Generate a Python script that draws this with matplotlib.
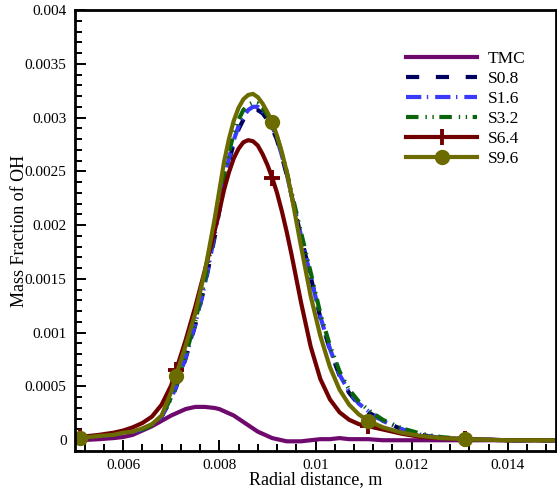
import numpy as np
import matplotlib
matplotlib.use("Agg")
import matplotlib.pyplot as plt
from matplotlib.ticker import MultipleLocator, FixedLocator, FixedFormatter

plt.rcParams['font.family'] = ['Liberation Serif', 'DejaVu Serif']
plt.rcParams['lines.scale_dashes'] = False

# ---- data ----
x = [0.0050, 0.0051, 0.0055, 0.0058, 0.0060, 0.0062, 0.0064, 0.0066, 0.0068, 0.0070,
     0.0071, 0.0073, 0.0075, 0.0077, 0.0079, 0.0080, 0.0081, 0.0082, 0.0083, 0.0084,
     0.0085, 0.0086, 0.0087, 0.0088, 0.0089, 0.0090, 0.0091, 0.0092, 0.0093, 0.0094,
     0.0095, 0.0097, 0.0099, 0.0101, 0.0103, 0.0105, 0.0107, 0.0109, 0.0111, 0.0114,
     0.0118, 0.0122, 0.0126, 0.0131, 0.0140, 0.0150]

tmc = [0.00000, 0.00000, 0.00001, 0.00002, 0.00003, 0.00005, 0.00009, 0.00013, 0.00018, 0.00023,
       0.00025, 0.00029, 0.00031, 0.00031, 0.00030, 0.00029, 0.00027, 0.00025, 0.00023, 0.00020,
       0.00017, 0.00014, 0.00011, 0.00008, 0.00006, 0.00004, 0.00002, 0.00001, 0.00000, -0.00001,
       -0.00001, -0.00001, 0.00000, 0.00001, 0.00001, 0.00002, 0.00001, 0.00001, 0.00001, 0.00000,
       0.00000, 0.00000, 0.00000, 0.00000, 0.00000, 0.00000]

s08 = [0.00002, 0.00002, 0.00004, 0.00005, 0.00007, 0.00008, 0.00010, 0.00014, 0.00022, 0.00038,
       0.00049, 0.00076, 0.00107, 0.00144, 0.00188, 0.00213, 0.00238, 0.00259, 0.00276, 0.00289,
       0.00298, 0.00304, 0.00307, 0.00307, 0.00304, 0.00298, 0.00290, 0.00279, 0.00264, 0.00247,
       0.00228, 0.00189, 0.00152, 0.00114, 0.00084, 0.00060, 0.00044, 0.00033, 0.00026, 0.00018,
       0.00010, 0.00005, 0.00002, 0.00001, 0.00000, 0.00000]

s16 = [0.00002, 0.00002, 0.00004, 0.00005, 0.00007, 0.00008, 0.00010, 0.00014, 0.00022, 0.00039,
       0.00050, 0.00077, 0.00108, 0.00145, 0.00190, 0.00215, 0.00240, 0.00262, 0.00279, 0.00292,
       0.00301, 0.00307, 0.00310, 0.00310, 0.00306, 0.00300, 0.00292, 0.00280, 0.00265, 0.00248,
       0.00228, 0.00190, 0.00152, 0.00115, 0.00085, 0.00061, 0.00045, 0.00034, 0.00027, 0.00018,
       0.00010, 0.00005, 0.00002, 0.00001, 0.00000, 0.00000]

s32 = [0.00002, 0.00002, 0.00004, 0.00005, 0.00007, 0.00008, 0.00010, 0.00014, 0.00022, 0.00040,
       0.00051, 0.00079, 0.00111, 0.00149, 0.00195, 0.00221, 0.00246, 0.00268, 0.00285, 0.00298,
       0.00307, 0.00312, 0.00314, 0.00313, 0.00309, 0.00302, 0.00294, 0.00282, 0.00267, 0.00250,
       0.00231, 0.00193, 0.00156, 0.00118, 0.00088, 0.00064, 0.00047, 0.00036, 0.00028, 0.00019,
       0.00011, 0.00006, 0.00003, 0.00001, 0.00000, 0.00000]

s64 = [0.00002, 0.00003, 0.00005, 0.00007, 0.00009, 0.00012, 0.00016, 0.00022, 0.00033, 0.00051,
       0.00065, 0.00093, 0.00124, 0.00158, 0.00194, 0.00213, 0.00233, 0.00249, 0.00262, 0.00271,
       0.00277, 0.00279, 0.00278, 0.00274, 0.00266, 0.00256, 0.00244, 0.00230, 0.00213, 0.00194,
       0.00173, 0.00128, 0.00087, 0.00057, 0.00038, 0.00026, 0.00019, 0.00015, 0.00013, 0.00010,
       0.00006, 0.00003, 0.00002, 0.00001, 0.00000, 0.00000]

s96 = [0.00002, 0.00002, 0.00004, 0.00005, 0.00007, 0.00008, 0.00011, 0.00015, 0.00023, 0.00045,
       0.00060, 0.00088, 0.00118, 0.00157, 0.00205, 0.00232, 0.00259, 0.00280, 0.00297, 0.00309,
       0.00317, 0.00321, 0.00322, 0.00319, 0.00313, 0.00305, 0.00296, 0.00283, 0.00268, 0.00250,
       0.00228, 0.00180, 0.00134, 0.00097, 0.00068, 0.00047, 0.00033, 0.00024, 0.00018, 0.00012,
       0.00007, 0.00004, 0.00002, 0.00001, 0.00000, 0.00000]

marker_x = [0.0051, 0.0071, 0.0091, 0.0111, 0.0131]

labels = ['TMC', 'S0.8', 'S1.6', 'S3.2', 'S6.4', 'S9.6']
xtick_vals = [0.006, 0.008, 0.010, 0.012, 0.014]
xtick_labels = ['0.006', '0.008', '0.01', '0.012', '0.014']
ytick_vals = [0, 0.0005, 0.001, 0.0015, 0.002, 0.0025, 0.003, 0.0035, 0.004]
ytick_labels = ['0', '0.0005', '0.001', '0.0015', '0.002', '0.0025', '0.003', '0.0035', '0.004']

# ---- figure ----
W, H = 557, 494
fig = plt.figure(figsize=(W / 100, H / 100), dpi=100)
ax = fig.add_axes([75 / W, 43 / H, 481 / W, 441 / H])

xa = np.array(x)
mk_idx = [int(np.argmin(np.abs(xa - m))) for m in marker_x]

lw = 3.0
ax.plot(x, tmc, color='#6e0a6e', lw=lw, label=labels[0])
ax.plot(x, s08, color='#00005e', lw=lw, dashes=(9.5, 12), label=labels[1])
ax.plot(x, s16, color='#3a3aff', lw=lw, dashes=(11, 4, 1, 5), label=labels[2])
ax.plot(x, s32, color='#0a640a', lw=lw, dashes=(9, 5, 1, 4, 1, 4), label=labels[3])
ax.plot(x, s64, color='#700000', lw=lw, marker='+', ms=11, mew=2.8,
        markevery=mk_idx, label=labels[4])
ax.plot(x, s96, color='#6b6b00', lw=lw, marker='o', ms=10,
        markevery=mk_idx, label=labels[5])

ax.set_xlim(0.005, 0.015)
ax.set_ylim(-0.0001, 0.004)

ax.xaxis.set_major_locator(FixedLocator(xtick_vals))
ax.xaxis.set_major_formatter(FixedFormatter(xtick_labels))
ax.xaxis.set_minor_locator(MultipleLocator(0.0004))
ax.yaxis.set_major_locator(FixedLocator(ytick_vals))
ax.yaxis.set_major_formatter(FixedFormatter(ytick_labels))
ax.yaxis.set_minor_locator(MultipleLocator(0.0001))

ax.tick_params(which='both', direction='in', top=False, right=False,
               labelsize=11, width=1.4, colors='black')
ax.tick_params(which='major', length=8, pad=6)
ax.tick_params(which='minor', length=5)
for sp in ax.spines.values():
    sp.set_linewidth(2.0)

ax.set_xlabel('Radial distance, m', fontsize=13, labelpad=-1)
ax.set_ylabel('Mass Fraction of OH', fontsize=13, labelpad=-2)

ax.legend(loc='upper left', bbox_to_anchor=(0.689, 0.908), frameon=False,
          fontsize=12.5, handlelength=4.05, handletextpad=0.63, labelspacing=0.22,
          borderpad=0, borderaxespad=0)

fig.savefig('out.png', dpi=100)
